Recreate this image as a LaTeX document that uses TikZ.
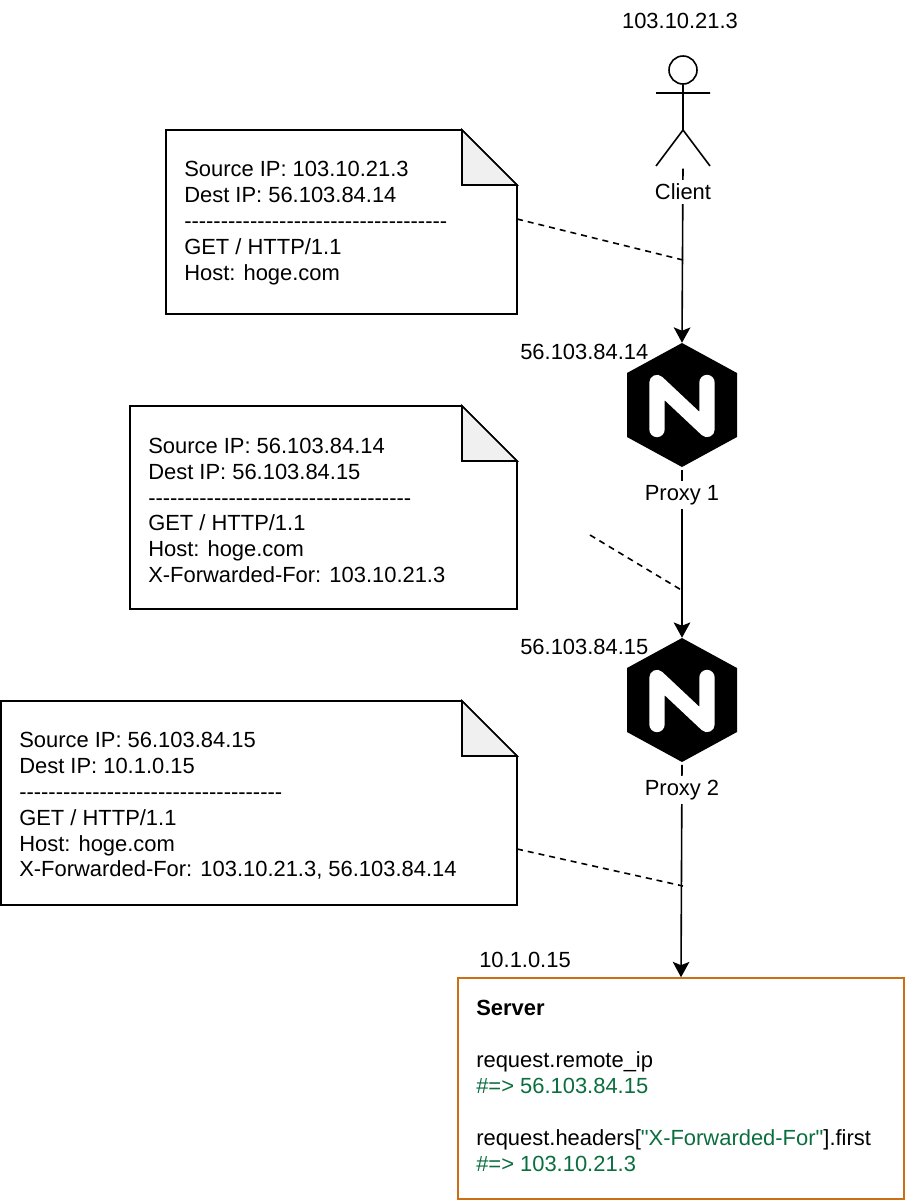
\documentclass[tikz,border=0pt]{standalone}
\usepackage{fontspec}
\usepackage{tikz}
\usetikzlibrary{positioning,calc,arrows.meta}
\newfontfamily\helv{Liberation Sans}
\definecolor{serverorange}{HTML}{CC6F14}
\definecolor{rubygreen}{HTML}{0B6E3F}
\definecolor{foldgray}{HTML}{F0F0F0}

\begin{document}
\begin{tikzpicture}[x=0.75pt,y=-0.75pt]

	\tikzset{shapeline/.style={draw=black,line width=1.2pt,line join=miter}}
	\tikzset{flow/.style={-{Stealth[length=11.5pt,width=12.5pt,inset=2.5pt]},line width=1.2pt,shorten <=2pt}}
	\tikzset{tether/.style={-,line width=1.2pt,dash pattern=on 4.5pt off 3.75pt}}
	\tikzset{txt/.style={font=\helv\fontsize{16.45}{19.4}\selectfont,inner sep=0pt,align=left}}
	\tikzset{caption/.style={txt,fill=white,inner xsep=1pt,inner ysep=3pt}}
	\tikzset{hexbox/.style={minimum width=82.5pt,minimum height=93pt,inner sep=0pt}}

	\useasboundingbox (0,0) rectangle (905,1200);

	\newcommand\noteBox[7] % {name}{left}{top}{right}{bottom}{text y}{text}
	{
		\draw[shapeline,fill=white] (#2,#3) -- (#4-55,#3) -- (#4,#3+55) -- (#4,#5) -- (#2,#5) -- cycle;
		\draw[shapeline,fill=foldgray] (#4-55,#3) -- (#4-55,#3+55) -- (#4,#3+55) -- cycle;
		\node[txt,anchor=west] at (#2+18,#6) (#1) {#7};
	}

	\newcommand\proxyHex[2] % {name}{center y}
	{
		\node[hexbox] at (682,#2) (#1) {};
		\fill[shift={(#1.center)}] (0,-62) -- (55,-32) -- (55,32) -- (0,62) -- (-55,32) -- (-55,-32) -- cycle;
		\draw[shift={(#1.center)},white,line width=11.5pt,line cap=round,line join=round]
			(-25,24.5) -- (-25,-22.5) -- (25,24.5) -- (25,-22.5);
	}

	\newcommand\hyphens{------------------------------------}

	% client figure
	\node[circle,shapeline,minimum size=21pt,inner sep=0pt] at (683,70) (head) {};
	\coordinate (hip) at (683,130);
	\coordinate (foot) at (683,166);
	\draw[shapeline] (head.south) -- (hip) (656,93) -- (710,93) (656,166) -- (hip) -- (710,166);

	\proxyHex{proxyone}{405}
	\proxyHex{proxytwo}{700}

	\node[draw=serverorange,line width=1.2pt,minimum width=334.5pt,minimum height=165.75pt,inner sep=0pt] at (681,1088.5) (server) {};

	% arrows go under the captions
	\draw[flow] (foot) -- (proxyone.north);
	\draw[flow] (proxyone.south) -- (proxytwo.north);
	\draw[flow] (proxytwo.south) -- (server.north);

	\node[caption] at (683,192) (client) {Client};
	\node[caption] at (682,495) (captionone) {Proxy 1};
	\node[caption] at (682,790) (captiontwo) {Proxy 2};

	\node[txt] at (680,21) (clientip) {103.10.21.3};
	\node[txt,anchor=west] at (520,352) (proxyoneip) {56.103.84.14};
	\node[txt,anchor=west] at (520,647) (proxytwoip) {56.103.84.15};
	\node[txt,anchor=west] at (479,960) (serverip) {10.1.0.15};

	\noteBox{noteone}{166}{130}{517}{314}{223}{Source IP: 103.10.21.3\\Dest IP: 56.103.84.14\\\hyphens\\GET / HTTP/1.1\\Host: hoge.com}
	\noteBox{notetwo}{130}{406}{517}{609}{510.5}{Source IP: 56.103.84.14\\Dest IP: 56.103.84.15\\\hyphens\\GET / HTTP/1.1\\Host: hoge.com\\X-Forwarded-For: 103.10.21.3}
	\noteBox{notethree}{1}{701}{517}{905}{806}{Source IP: 56.103.84.15\\Dest IP: 10.1.0.15\\\hyphens\\GET / HTTP/1.1\\Host: hoge.com\\X-Forwarded-For: 103.10.21.3, 56.103.84.14}

	\coordinate (tetherone) at (517,219);
	\coordinate (tetheronend) at (683,260);
	\coordinate (tethertwo) at (590,535);
	\coordinate (tethertwoend) at (683,591);
	\coordinate (tetherthree) at (517,849);
	\coordinate (tetherthreeend) at (683,886);
	\draw[tether] (tetherone) -- (tetheronend);
	\draw[tether] (tethertwo) -- (tethertwoend);
	\draw[tether] (tetherthree) -- (tetherthreeend);

	\node[txt,anchor=west] at (476,1008) (servername) {\bfseries Server};
	\node[txt,anchor=west] at (476,1073) (remoteip) {request.remote\_ip\\\textcolor{rubygreen}{\#=> 56.103.84.15}};
	\node[txt,anchor=west] at (476,1151) (forwarded) {request.headers[\textcolor{rubygreen}{"X-Forwarded-For"}].first\\\textcolor{rubygreen}{\#=> 103.10.21.3}};

\end{tikzpicture}
\end{document}
